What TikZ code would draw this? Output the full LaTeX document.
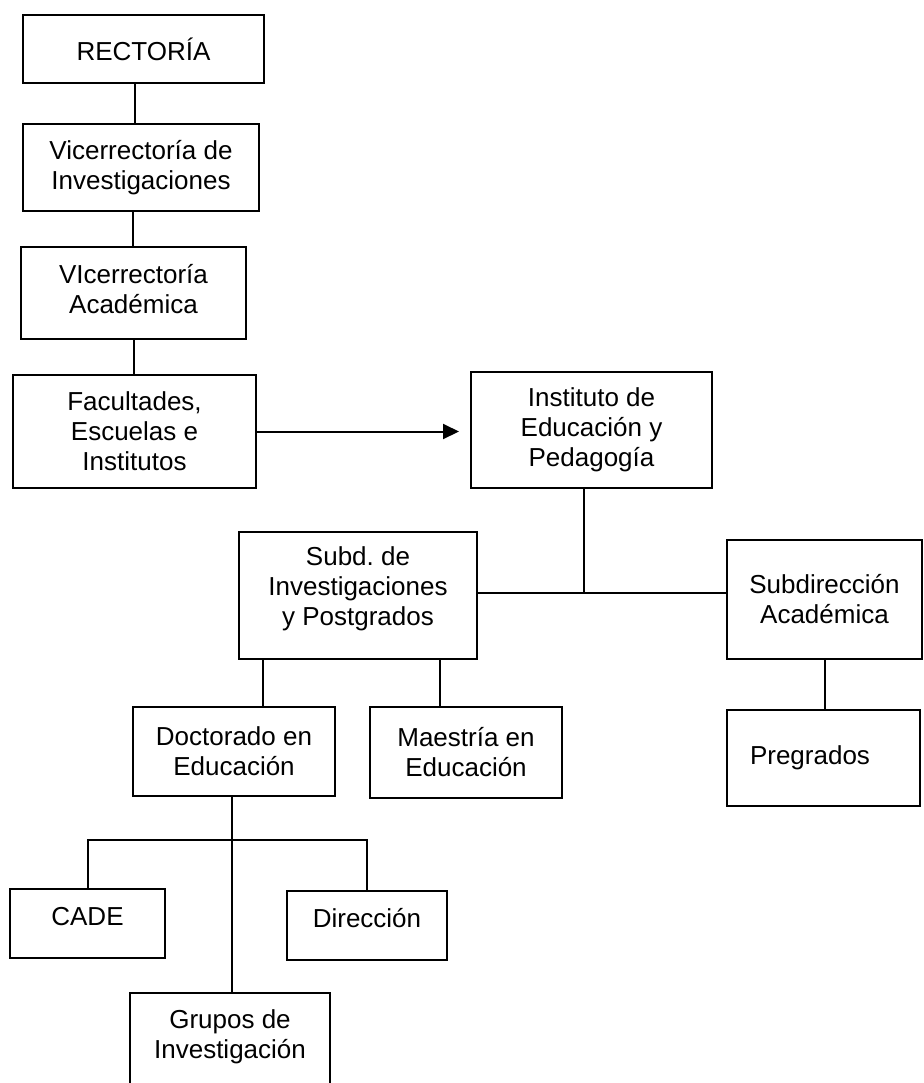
\documentclass[tikz,border=0pt]{standalone}
\usepackage{fontspec}
\setmainfont{Liberation Sans}
\usetikzlibrary{arrows.meta}
\tikzset{
	caja/.style={draw, line width=1pt, align=center, inner sep=0pt, font=\fontsize{13}{15}\selectfont},
	linea/.style={line width=1pt}
}

\begin{document}
\begin{tikzpicture}[x=0.5pt, y=-0.5pt]
			%%%%% START %%%%%
			\useasboundingbox (0, 0) rectangle (923, 1083);
			
			\node[caja, minimum width=120.5pt, minimum height=34pt] (rector) at (143.5, 49) {RECTORÍA};
			\node[caja, minimum width=118pt, minimum height=43.5pt] (vinv) at (141, 167.5) {Vicerrectoría de\\Investigaciones};
			\node[caja, minimum width=112.5pt, minimum height=46pt, text depth=4.5pt] (vacad) at (133.5, 293) {VIcerrectoría\\Académica};
			\node[caja, minimum width=121.5pt, minimum height=56.5pt] (facul) at (134.5, 431.5) {Facultades,\\Escuelas e\\Institutos};
			\node[caja, minimum width=120.5pt, minimum height=58pt] (inst) at (591.5, 430) {Instituto de\\Educación y\\Pedagogía};
			
			\node[caja, minimum width=119pt, minimum height=63.5pt, text depth=9pt] (subd) at (358, 595.5) {Subd.\ de\\Investigaciones\\y Postgrados};
			\node[caja, minimum width=97.5pt, minimum height=59.5pt] (subac) at (824.5, 599.5) {Subdirección\\Académica};
			
			\node[caja, minimum width=101pt, minimum height=44.5pt] (docto) at (234, 751.5) {Doctorado en\\Educación};
			\node[caja, minimum width=96pt, minimum height=45.5pt] (maest) at (466, 752.5) {Maestría en\\Educación};
			\node[caja, minimum width=96.5pt, minimum height=48pt] (pregr) at (823.5, 758) {Pregrados\kern13.5pt};
			
			\node[caja, minimum width=77.5pt, minimum height=34.5pt, text depth=7.5pt] (cade) at (87.5, 923.5) {CADE};
			\node[caja, minimum width=80pt, minimum height=34.5pt, text depth=7.5pt] (direc) at (367, 925.5) {Dirección};
			\node[caja, minimum width=100pt, minimum height=48.5pt, text depth=7pt] (grupos) at (230, 1041.5) {Grupos de\\Investigación};
			
			\coordinate (jn) at (584, 593);
			\coordinate (dbus) at (232, 840);
			
			\draw[linea] ([xshift=-4.25pt]rector.south) -- ([xshift=-4.25pt]rector.south |- vinv.north);
			\draw[linea] ([xshift=-4pt]vinv.south) -- ([xshift=-4pt]vinv.south |- vacad.north);
			\draw[linea] (vacad.south) -- (vacad.south |- facul.north);
			\draw[linea, -{Triangle[length=8pt, width=7.5pt]}] (facul.east) -- ([xshift=-5.5pt]facul.east -| inst.west);
			
			\draw[linea] (inst.south -| jn) -- (jn);
			\draw[linea] (subd.east |- jn) -- (subac.west |- jn);
			
			\draw[linea] ([xshift=12.5pt]subd.south west) -- ([xshift=12.5pt]subd.south west |- docto.north);
			\draw[linea] ([xshift=-19pt]subd.south east) -- ([xshift=-19pt]subd.south east |- maest.north);
			\draw[linea] (subac.south) -- (subac.south |- pregr.north);
			
			\draw[linea] (docto.south -| dbus) -- (grupos.north -| dbus);
			\draw[linea] (cade.north) -- (cade.north |- dbus) -- (direc.north |- dbus) -- (direc.north);
			
			%%%%% END %%%%%
\end{tikzpicture}
\end{document}
